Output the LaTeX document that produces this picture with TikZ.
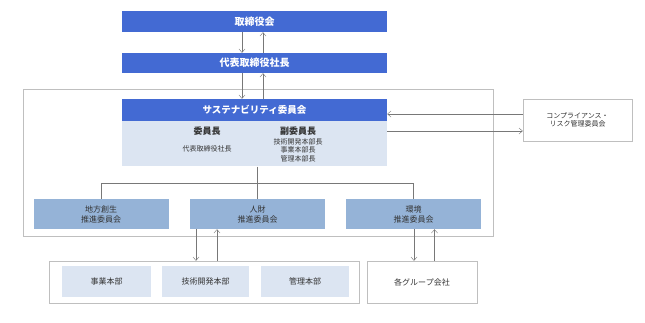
\documentclass[tikz,border=0pt]{standalone}
\usepackage{fontspec}
\setmainfont{Noto Sans CJK JP}
\usetikzlibrary{arrows.meta}
\definecolor{hdblue}{RGB}{67,106,211}
\definecolor{cmblue}{RGB}{149,179,215}
\definecolor{paleblue}{RGB}{220,229,242}
\definecolor{framegray}{RGB}{191,191,191}
\definecolor{linegray}{RGB}{120,120,120}

\begin{document}
\begin{tikzpicture}[x=1pt,y=-1pt]
  \tikzset{every node/.style={inner sep=0pt,align=center,text=black!80},font={\fontsize{8}{10}\selectfont}}
  \tikzstyle{head}=[fill=hdblue,text=white,font={\fontsize{10}{12}\selectfont\bfseries},minimum width=265pt]
  \tikzstyle{pale}=[fill=paleblue]
  \tikzstyle{cmte}=[fill=cmblue,minimum width=135pt,minimum height=30pt]
  \tikzstyle{frame}=[draw=framegray,fill=white]
  \tikzstyle{arr}=[draw=linegray,-{Straight Barb[length=3.5pt,width=6pt]}]
  \tikzstyle{conn}=[draw=linegray]
  \tikzstyle{small}=[font={\fontsize{7}{8.5}\selectfont}]

  \useasboundingbox (0,0) rectangle (645,322);

  % company frame
  \draw[framegray] (23,89) rectangle (493,236);

  % top management
  \node[head,minimum height=21pt] (board) at (254.5,21.5) {取締役会};
  \node[head,minimum height=20pt] (ceo)   at (254.5,63)   {代表取締役社長};

  % sustainability committee
  \node[head,minimum height=22pt,font={\fontsize{9.5}{12}\selectfont\bfseries}] (sust) at (254.5,110) {サステナビリティ委員会};
  \node[pale,minimum width=265pt,minimum height=45pt,anchor=north] (body) at (sust.south) {};
  \node[font={\fontsize{9}{11}\selectfont\bfseries}] (chair) at (207,131) {委員長};
  \node[small] at (207,149) {代表取締役社長};
  \node[font={\fontsize{9}{11}\selectfont\bfseries}] (vice) at (298,131) {副委員長};
  \node[small,anchor=north] at (298,138) {技術開発本部長\\事業本部長\\管理本部長};

  % compliance
  \node[frame,small,minimum width=109pt,minimum height=42pt] (comp) at (577.5,120) {コンプライアンス・\\リスク管理委員会};

  % promotion committees
  \node[cmte] (chiho)  at (101,214)   {地方創生\\推進委員会};
  \node[cmte] (jin)    at (257.5,214) {人財\\推進委員会};
  \node[cmte] (kankyo) at (413.5,214) {環境\\推進委員会};

  % divisions
  \node[frame,minimum width=310pt,minimum height=42pt] (honbu) at (204,282) {};
  \node[pale,minimum width=89pt,minimum height=31pt] (jigyo)  at (106.5,281.5) {事業本部};
  \node[pale,minimum width=87pt,minimum height=31pt] (gijutsu) at (205.5,281.5) {技術開発本部};
  \node[pale,minimum width=88pt,minimum height=31pt] (kanri)  at (305,281.5) {管理本部};
  \node[frame,minimum width=110pt,minimum height=42pt] (group) at (422,282) {各グループ会社};

  % reporting lines
  \draw[arr] ([xshift=-12.5]board.south) -- ([xshift=-12.5]ceo.north);
  \draw[arr] ([xshift=8.5]ceo.north) -- ([xshift=8.5]board.south);
  \draw[arr] ([xshift=-12.5]ceo.south) -- ([xshift=-12.5]sust.north);
  \draw[arr] ([xshift=8.5]sust.north) -- ([xshift=8.5]ceo.south);

  \draw[arr] (comp.west |- 0,114) -- (sust.east |- 0,114);
  \draw[arr] (body.east |- 0,131) -- (comp.west |- 0,131);

  % tree
  \draw[conn] (jin.north |- body.south) -- (jin.north);
  \draw[conn] (chiho.north) -- ++(0,-16) -| (kankyo.north);

  \draw[arr] ([xshift=-61.5]jin.south) -- ([xshift=-61.5]jin.south |- honbu.north);
  \draw[arr] ([xshift=-40.5]jin.south |- honbu.north) -- ([xshift=-40.5]jin.south);
  \draw[arr] ([xshift=0.5]kankyo.south) -- ([xshift=0.5]kankyo.south |- group.north);
  \draw[arr] ([xshift=21]kankyo.south |- group.north) -- ([xshift=21]kankyo.south);

\end{tikzpicture}
\end{document}
